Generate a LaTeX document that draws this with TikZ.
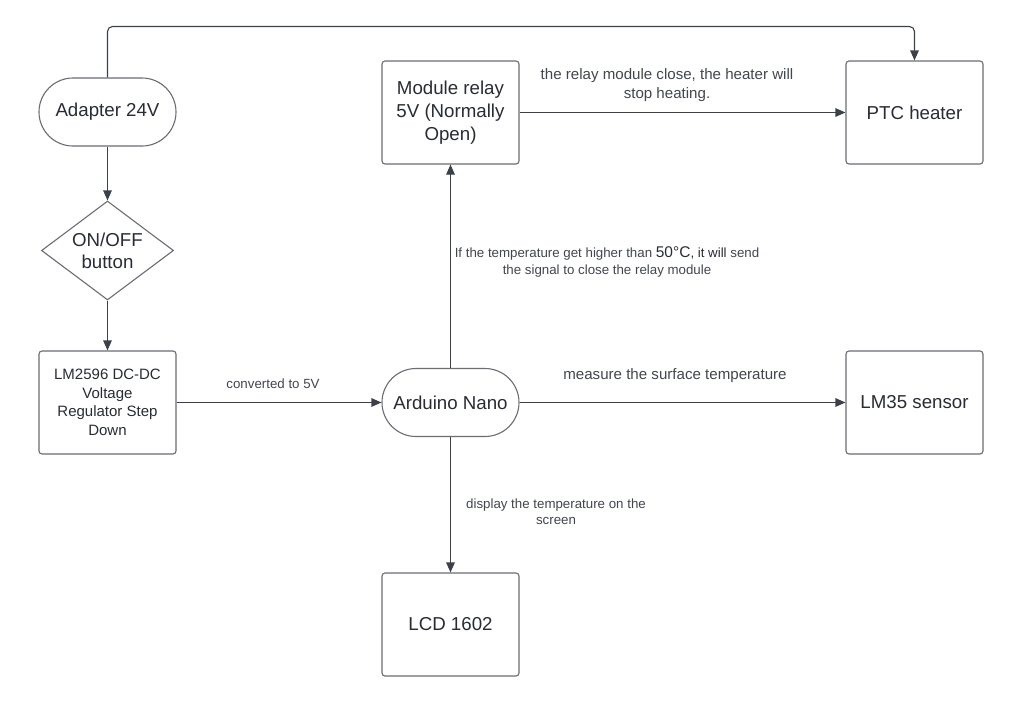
\documentclass[tikz,border=0pt]{standalone}
\usepackage{fontspec}
\setmainfont{Liberation Sans}
\usetikzlibrary{arrows.meta,shapes.geometric,shapes.misc}
\definecolor{ln}{RGB}{58,65,74}
\definecolor{bd}{RGB}{105,109,116}
\definecolor{tx}{RGB}{40,44,52}
\definecolor{lb}{RGB}{66,70,78}
\begin{document}
\begin{tikzpicture}[x=1pt,y=-1pt,
  box/.style={draw=bd, line width=1.1pt, rounded corners=3pt, minimum width=137pt, minimum height=103pt, inner sep=0pt, align=center, text=tx, font=\fontsize{18.7}{23}\selectfont},
  term/.style={draw=bd, line width=1.1pt, rounded rectangle, minimum width=137pt, minimum height=68pt, inner sep=0pt, text=tx, font=\fontsize{18.7}{23}\selectfont},
  dia/.style={draw=bd, line width=1.1pt, diamond, aspect=1.333, minimum width=132pt, minimum height=99pt, inner sep=0pt, align=center, text=tx, font=\fontsize{18.7}{22}\selectfont},
  conn/.style={draw=ln, line width=1.1pt, -{Triangle[length=10pt,width=8.5pt]}},
  lab/.style={text=lb, align=center, inner sep=0pt, font=\fontsize{15.1}{19}\selectfont},
  slab/.style={text=lb, align=center, inner sep=0pt, font=\fontsize{13.3}{17}\selectfont}]
\fill[white] (0,0) rectangle (1021,705);
\useasboundingbox (0,0) rectangle (1021,705);

\node[term] (adapter) at (107.5,112) {Adapter 24V};
\node[dia] (onoff) at (107.5,250.5) {ON/OFF\\button};
\node[box, font=\fontsize{15}{18.5}\selectfont] (lm) at (107.5,402.5) {LM2596 DC-DC\\Voltage\\Regulator Step\\Down};
\node[term] (ard) at (450.5,402.5) {Arduino Nano};
\node[box] (relay) at (450.5,112.5) {Module relay\\5V (Normally\\Open)};
\node[box] (ptc) at (914.5,112.5) {PTC heater};
\node[box] (lm35) at (914.5,402.5) {LM35 sensor};
\node[box] (lcd) at (450.5,624.5) {LCD 1602};

\coordinate (tl) at (107.5,26.5);
\coordinate (tr) at (914.5,26.5);
\draw[conn, rounded corners=5pt] (adapter.north) -- (tl) -- (tr) -- (ptc.north);
\draw[conn] (adapter.south) -- (onoff.north);
\draw[conn] (onoff.south) -- (lm.north);
\draw[conn] (lm.east) -- (ard.west);
\draw[conn] (ard.east) -- (lm35.west);
\draw[conn] (ard.north) -- (relay.south);
\draw[conn] (ard.south) -- (lcd.north);
\draw[conn] (relay.east) -- (ptc.west);

\node[slab] (l1) at (273,384) {converted to 5V};
\node[lab] (l2) at (675,376) {measure the surface temperature};
\node[lab] (l3) at (667,85) {the relay module close, the heater will\\stop heating.};
\node[slab] (l4) at (607,261.5) {If the temperature get higher than {\color{tx}\fontsize{15.5}{17}\selectfont 50°C}{\color{tx}, it will} send\\the signal to close the relay module};
\node[slab, font=\fontsize{13.3}{16}\selectfont] (l5) at (556,512) {display the temperature on the\\screen};
\end{tikzpicture}
\end{document}
